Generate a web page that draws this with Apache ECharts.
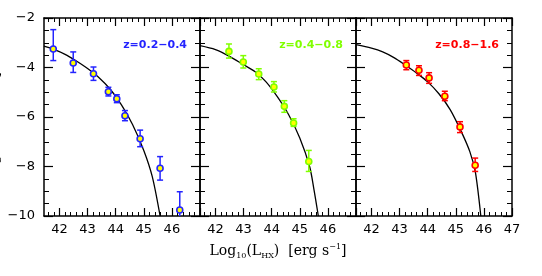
<!DOCTYPE html>
<html>
<head>
<meta charset="utf-8">
<script src="https://cdn.jsdelivr.net/npm/echarts@6/dist/echarts.min.js"></script>
<style>html,body{margin:0;padding:0;background:#fff}#c{width:542px;height:276px}</style>
</head>
<body>
<div id="c"></div>
<script>
// ---- data ----
const panelLabels = ['z=0.2\u22120.4', 'z=0.4\u22120.8', 'z=0.8\u22121.6'];
const panelColors = ['#2424ff', '#80ff00', '#ff0000'];
const yTitle = 'Log\u2081\u2080(\u03a6 HX) [Mpc\u207b\u00b3]';

const xMajorTicks = [42, 43, 44, 45, 46, 47];
const xLabels12 = [42, 43, 44, 45, 46];
const xLabels3 = [42, 43, 44, 45, 46, 47];
const yTickLabels = [-10, -8, -6, -4, -2];

// panel 1  z=0.2-0.4
const p1X  = [41.78, 42.49, 43.21, 43.74, 44.04, 44.33, 44.87, 45.58, 46.28];
const p1Y  = [-3.25, -3.82, -4.25, -4.98, -5.26, -5.95, -6.88, -8.07, -9.76];
const p1Hi = [-2.47, -3.37, -3.98, -4.80, -5.10, -5.74, -6.53, -7.60, -9.02];
const p1Lo = [-3.72, -4.20, -4.52, -5.15, -5.42, -6.15, -7.20, -8.55, -10.4];
const c1X  = [41.45, 41.8, 42.2, 42.6, 43.0, 43.4, 43.8, 44.2, 44.6, 45.0, 45.3, 45.58];
const c1Y  = [-3.14, -3.27, -3.47, -3.74, -4.04, -4.40, -4.87, -5.50, -6.30, -7.35, -8.4, -10];

// panel 2  z=0.4-0.8
const p2X  = [42.48, 42.99, 43.54, 44.08, 44.45, 44.78, 45.32];
const p2Y  = [-3.35, -3.78, -4.26, -4.79, -5.57, -6.24, -7.80];
const p2Hi = [-3.05, -3.52, -4.05, -4.57, -5.34, -6.07, -7.35];
const p2Lo = [-3.62, -4.02, -4.49, -4.99, -5.81, -6.38, -8.20];
const c2X  = [41.45, 42.0, 42.5, 43.0, 43.4, 43.8, 44.2, 44.6, 45.0, 45.35, 45.5, 45.66];
const c2Y  = [-3.12, -3.28, -3.55, -3.89, -4.16, -4.58, -5.18, -5.90, -6.85, -8.0, -8.9, -10];

// panel 3  z=0.8-1.6
const p3X  = [43.24, 43.69, 44.05, 44.61, 45.15, 45.69];
const p3Y  = [-3.90, -4.11, -4.42, -5.16, -6.40, -7.95];
const p3Hi = [-3.72, -3.93, -4.21, -4.96, -6.19, -7.66];
const p3Lo = [-4.09, -4.32, -4.64, -5.34, -6.63, -8.20];
const c3X  = [41.45, 42.0, 42.4, 42.8, 43.2, 43.6, 44.0, 44.4, 44.8, 45.2, 45.5, 45.7, 45.89];
const c3Y  = [-3.08, -3.22, -3.37, -3.60, -3.90, -4.22, -4.58, -5.06, -5.70, -6.60, -7.40, -8.25, -10];

// ---- build ----
const panels = [
  {px: p1X, py: p1Y, hi: p1Hi, lo: p1Lo, cx: c1X, cy: c1Y},
  {px: p2X, py: p2Y, hi: p2Hi, lo: p2Lo, cx: c2X, cy: c2Y},
  {px: p3X, py: p3Y, hi: p3Hi, lo: p3Lo, cx: c3X, cy: c3Y}
];
const X_MIN = 41.45, X_MAX = 47.0;
const xMinorTicks = [];
for (let v = 416; v <= 470; v += 2) { if (v % 10 !== 0) xMinorTicks.push(v / 10); }

const gridLefts = [44, 200, 356];
const grids = gridLefts.map(l => ({left: l, top: 18, width: 156, height: 198, show: false}));
const lineStyle = {color: '#000', width: 1.5};
const tickFont = {fontFamily: 'DejaVu Sans', fontSize: 13, color: '#000'};

const xAxes = [], yAxes = [], series = [], graphics = [];
panels.forEach((p, g) => {
  const base = {type: 'value', gridIndex: g, min: X_MIN, max: X_MAX, splitLine: {show: false}};
  xAxes.push(Object.assign({}, base, {
    position: 'bottom', axisLine: {show: true, onZero: false, lineStyle},
    axisTick: {show: true, inside: true, length: 8, lineStyle: {width: 1.2}, customValues: xMajorTicks},
    axisLabel: Object.assign({show: true, margin: 7, customValues: g === 2 ? xLabels3 : xLabels12}, tickFont),
    name: g === 1 ? '{t|Log}{s|10}{t|(L}{s|HX}{t|)  [erg s}{p|\u22121}{t|]}' : '',
    nameLocation: 'middle', nameGap: 21,
    nameTextStyle: {rich: {
      t: {fontFamily: 'DejaVu Serif', fontSize: 14, color: '#000', lineHeight: 20, verticalAlign: 'middle'},
      s: {fontFamily: 'DejaVu Serif', fontSize: 8, color: '#000', lineHeight: 20, verticalAlign: 'bottom', padding: [0,0,1,0]},
      p: {fontFamily: 'DejaVu Serif', fontSize: 8, color: '#000', lineHeight: 20, verticalAlign: 'top', padding: [2,0,0,0]}
    }}
  }));
  xAxes.push(Object.assign({}, base, {
    position: 'bottom', axisLine: {show: false, onZero: false},
    axisTick: {show: true, inside: true, length: 4, lineStyle: {width: 1, color: '#000'}, customValues: xMinorTicks},
    axisLabel: {show: false}
  }));
  xAxes.push(Object.assign({}, base, {
    position: 'top', axisLine: {show: true, onZero: false, lineStyle},
    axisTick: {show: true, inside: true, length: 8, lineStyle: {width: 1.2}, customValues: xMajorTicks},
    axisLabel: {show: false}
  }));
  xAxes.push(Object.assign({}, base, {
    position: 'top', axisLine: {show: false, onZero: false},
    axisTick: {show: true, inside: true, length: 4, lineStyle: {width: 1, color: '#000'}, customValues: xMinorTicks},
    axisLabel: {show: false}
  }));
  const ybase = {type: 'value', gridIndex: g, min: -10, max: -2, interval: 2, splitLine: {show: false},
    axisLine: {show: true, onZero: false, lineStyle},
    axisTick: {show: true, inside: true, length: 9, lineStyle: {width: 1.2}},
    minorTick: {show: true, splitNumber: 4, length: 5, lineStyle: {color: '#000', width: 1}},
    minorSplitLine: {show: false}};
  yAxes.push(Object.assign({}, ybase, {
    position: 'left',
    axisLabel: Object.assign({show: g === 0, margin: 9, customValues: yTickLabels,
      formatter: v => String(v).replace('-', '\u2212')}, tickFont)
  }));
  yAxes.push(Object.assign({}, ybase, {position: 'right', axisLabel: {show: false}}));

  const color = panelColors[g];
  series.push({
    type: 'line', xAxisIndex: 4 * g, yAxisIndex: 2 * g,
    data: p.cx.map((x, i) => [x, p.cy[i]]),
    smooth: 0.3, showSymbol: false, symbol: 'none',
    lineStyle: {color: '#000', width: 1.3}, z: 2, silent: true
  });
  series.push({
    type: 'custom', xAxisIndex: 4 * g, yAxisIndex: 2 * g, clip: true, z: 3,
    data: p.px.map((x, i) => [x, p.hi[i], p.lo[i]]),
    encode: {x: 0, y: [1, 2]},
    renderItem: (params, api) => {
      const x = api.value(0);
      const a = api.coord([x, api.value(1)]);
      const b = api.coord([x, api.value(2)]);
      const w = 3;
      const st = {stroke: color, lineWidth: 1.5};
      return {type: 'group', children: [
        {type: 'line', shape: {x1: a[0], y1: a[1], x2: b[0], y2: b[1]}, style: st},
        {type: 'line', shape: {x1: a[0] - w, y1: a[1], x2: a[0] + w, y2: a[1]}, style: st},
        {type: 'line', shape: {x1: b[0] - w, y1: b[1], x2: b[0] + w, y2: b[1]}, style: st}
      ]};
    }
  });
  series.push({
    type: 'scatter', xAxisIndex: 4 * g, yAxisIndex: 2 * g, z: 4,
    data: p.px.map((x, i) => [x, p.py[i]]),
    symbol: 'circle', symbolSize: 6,
    itemStyle: {color: '#ffff00', borderColor: color, borderWidth: 1.6, opacity: 1}
  });
  graphics.push({
    type: 'text', right: 542 - (gridLefts[g] + 156 - 13), top: 40,
    style: {text: panelLabels[g], fill: color, font: 'bold 11px "DejaVu Sans"', textAlign: 'right'}
  });
});
graphics.push({
  type: 'text', x: -5, y: 112, rotation: Math.PI / 2,
  style: {text: yTitle, fill: '#000', font: '13px "DejaVu Serif"', textAlign: 'center', textVerticalAlign: 'middle'}
});

const chart = echarts.init(document.getElementById('c'), null, {renderer: 'canvas'});
chart.setOption({
  animation: false,
  backgroundColor: '#fff',
  grid: grids,
  xAxis: xAxes,
  yAxis: yAxes,
  series: series,
  graphic: graphics
});
</script>
</body>
</html>
